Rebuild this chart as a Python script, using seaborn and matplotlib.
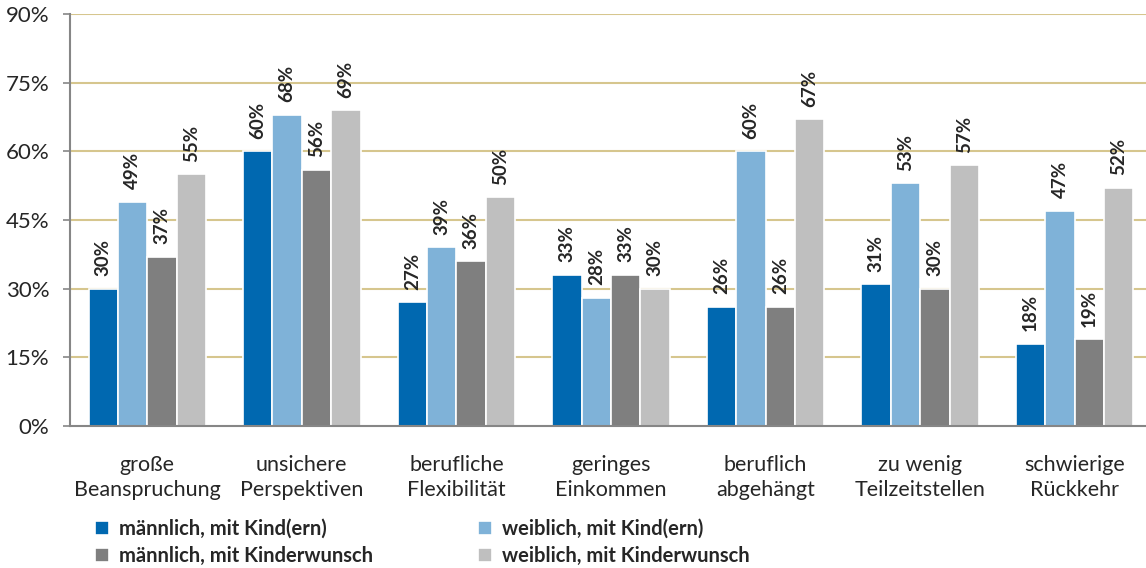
import seaborn as sns
import matplotlib.pyplot as plt
import pandas as pd

categories = ['große\nBeanspruchung', 'unsichere\nPerspektiven', 'berufliche\nFlexibilität',
              'geringes\nEinkommen', 'beruflich\nabgehängt', 'zu wenig\nTeilzeitstellen',
              'schwierige\nRückkehr']
groups = ['männlich, mit Kind(ern)', 'weiblich, mit Kind(ern)',
          'männlich, mit Kinderwunsch', 'weiblich, mit Kinderwunsch']
m_kind = [30, 60, 27, 33, 26, 31, 18]
w_kind = [49, 68, 39, 28, 60, 53, 47]
m_wunsch = [37, 56, 36, 33, 26, 30, 19]
w_wunsch = [55, 69, 50, 30, 67, 57, 52]
colors = ['#0068b0', '#7fb2d8', '#7f7f7f', '#bfbfbf']

rows = []
for g, vals in zip(groups, [m_kind, w_kind, m_wunsch, w_wunsch]):
    for c, v in zip(categories, vals):
        rows.append({'Kategorie': c, 'Gruppe': g, 'Wert': v})
df = pd.DataFrame(rows)

sns.set_style('white')
plt.rcParams['font.family'] = ['Lato', 'DejaVu Sans']

fig = plt.figure(figsize=(11.46, 5.68), dpi=100)
ax = fig.add_axes([70 / 1146, 1 - 426 / 568, 1082 / 1146, 412 / 568])

sns.barplot(data=df, x='Kategorie', y='Wert', hue='Gruppe', palette=colors, saturation=1,
            width=0.76, edgecolor='white', linewidth=1.2, ax=ax, legend=True)

for cont in ax.containers:
    ax.bar_label(cont, labels=[f'{int(round(b.get_height()))}%' for b in cont],
                 rotation=90, padding=9, fontsize=13.5, fontweight='bold')

ax.set_ylim(0, 90)
ax.set_yticks(range(0, 91, 15))
ax.set_yticklabels([f'{t}%' for t in range(0, 91, 15)], fontsize=16)
ax.set_xlim(-0.5, 6.5)
ax.set_xticks([i - 0.5 for i in range(8)], minor=True)
ax.set_xticks(range(7))
ax.set_xticklabels(categories, fontsize=15.5, linespacing=1.3)
ax.tick_params(axis='x', which='major', length=0, pad=21)
ax.tick_params(axis='x', which='minor', length=5, color='#868686', width=1.2, direction='out')
ax.tick_params(axis='y', length=5, color='#868686', width=1.2, direction='out', pad=10, left=True)
ax.set_xlabel('')
ax.set_ylabel('')

for t in range(15, 91, 15):
    ax.axhline(t, color='#d6c68e', lw=1.5, zorder=0)
for s in ['top', 'right']:
    ax.spines[s].set_visible(False)
for s in ['left', 'bottom']:
    ax.spines[s].set_color('#868686')
    ax.spines[s].set_linewidth(1.5)

# Reihenfolge der Legende: Zeile für Zeile
h, l = ax.get_legend_handles_labels()
order = [0, 2, 1, 3]
ax.legend([h[i] for i in order], [l[i] for i in order],
          loc='upper left', bbox_to_anchor=(95 / 1146, 49 / 568), bbox_transform=fig.transFigure,
          ncol=2, frameon=False, prop={'weight': 'bold', 'size': 14.5},
          handlelength=0.7, handleheight=0.7, handletextpad=0.5, columnspacing=5.2,
          labelspacing=0.35, borderaxespad=0, borderpad=0)

fig.savefig('out.png', dpi=100)
